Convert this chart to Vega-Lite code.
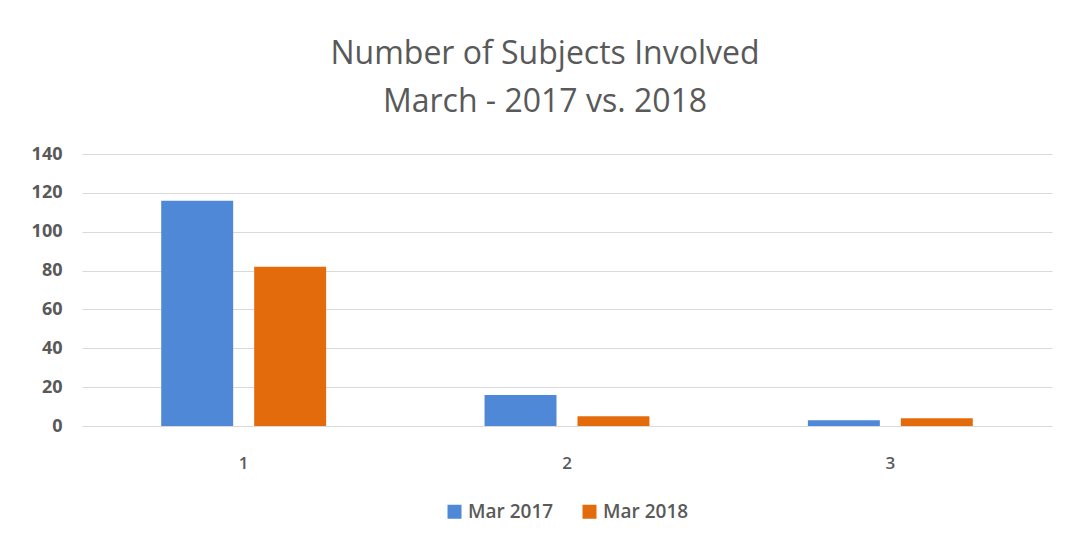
{
  "$schema": "https://vega.github.io/schema/vega-lite/v6.json",
  "width": 970,
  "height": 272,
  "autosize": {"type": "none"},
  "padding": {"left": 82, "top": 154, "right": 17, "bottom": 122},
  "background": "white",
  "title": {
    "text": ["Number of Subjects Involved", "March - 2017 vs. 2018"],
    "font": "Open Sans",
    "fontSize": 32,
    "fontWeight": 500,
    "color": "#595959",
    "lineHeight": 48,
    "anchor": "middle",
    "dx": -22,
    "offset": 26
  },
  "data": {
    "values": [
      {"group": "1", "series": "Mar 2017", "count": 116},
      {"group": "1", "series": "Mar 2018", "count": 82},
      {"group": "2", "series": "Mar 2017", "count": 16},
      {"group": "2", "series": "Mar 2018", "count": 5},
      {"group": "3", "series": "Mar 2017", "count": 3},
      {"group": "3", "series": "Mar 2018", "count": 4}
    ]
  },
  "mark": {"type": "bar"},
  "encoding": {
    "x": {
      "field": "group",
      "type": "nominal",
      "sort": ["1", "2", "3"],
      "scale": {"paddingInner": 0.49, "paddingOuter": 0.245},
      "axis": {
        "title": null,
        "labelAngle": 0,
        "domain": false,
        "ticks": false,
        "labelPadding": 29,
        "labelFont": "Open Sans",
        "labelFontSize": 17,
        "labelFontWeight": 600,
        "labelColor": "#595959"
      }
    },
    "xOffset": {
      "field": "series",
      "type": "nominal",
      "scale": {"paddingInner": 0.226}
    },
    "y": {
      "field": "count",
      "type": "quantitative",
      "scale": {"domain": [0, 140]},
      "axis": {
        "title": null,
        "values": [0, 20, 40, 60, 80, 100, 120, 140],
        "domain": false,
        "ticks": false,
        "labelPadding": 20,
        "labelFont": "Open Sans",
        "labelFontSize": 18,
        "labelFontWeight": "bold",
        "labelColor": "#595959",
        "gridColor": "#d9d9d9",
        "gridWidth": 1
      }
    },
    "color": {
      "field": "series",
      "type": "nominal",
      "scale": {"domain": ["Mar 2017", "Mar 2018"], "range": ["#4f88d6", "#e46b0c"]},
      "legend": {
        "title": null,
        "orient": "bottom",
        "direction": "horizontal",
        "symbolType": "square",
        "symbolSize": 196,
        "symbolStrokeWidth": 0,
        "labelFont": "Open Sans",
        "labelFontSize": 19,
        "labelFontWeight": 600,
        "labelColor": "#595959",
        "columnPadding": 26,
        "offset": 31
      }
    }
  },
  "config": {
    "view": {"stroke": null},
    "legend": {"layout": {"bottom": {"anchor": "middle"}}}
  }
}
